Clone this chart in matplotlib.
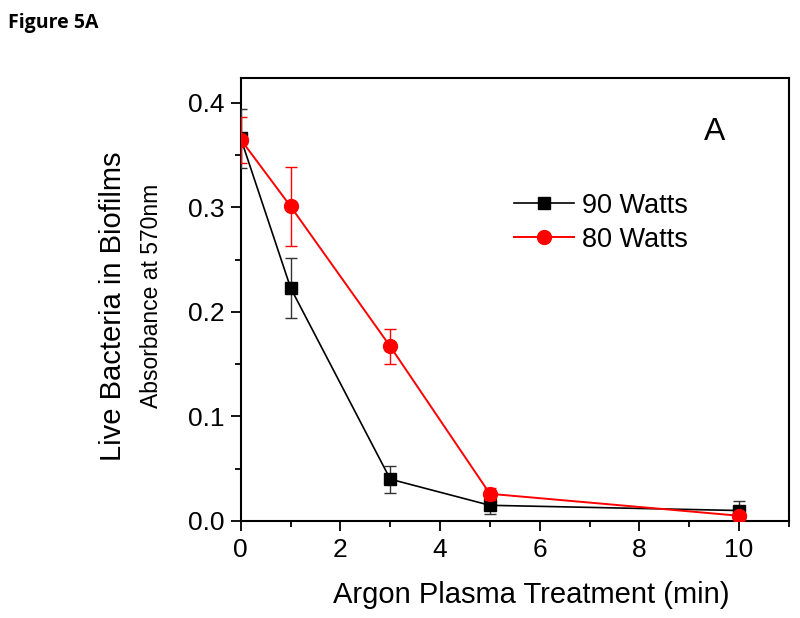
import numpy as np
import matplotlib
matplotlib.use("Agg")
import matplotlib.pyplot as plt
from matplotlib.ticker import MultipleLocator, FormatStrFormatter
from matplotlib.lines import Line2D

plt.rcParams['font.family'] = ['Liberation Sans', 'DejaVu Sans']

# treatment time (min)
time_min = [0, 1, 3, 5, 10]

# 90 Watts
w90 = [0.366, 0.223, 0.040, 0.015, 0.010]
w90_err = [0.028, 0.029, 0.013, 0.008, 0.009]

# 80 Watts
w80 = [0.365, 0.301, 0.167, 0.026, 0.005]
w80_err = [0.022, 0.038, 0.017, 0.006, 0.003]

fig = plt.figure(figsize=(8, 6.18), dpi=100)
ax = fig.add_axes([0.301, 0.157, 0.685, 0.717])

ax.errorbar(time_min, w90, yerr=w90_err, color='black', marker='s', ms=9,
            lw=1.2, ecolor='#333333', elinewidth=1, capsize=4, capthick=1,
            zorder=3)
ax.errorbar(time_min, w80, yerr=w80_err, color='red', marker='o', ms=10,
            lw=1.4, ecolor='red', elinewidth=1, capsize=4, capthick=1,
            zorder=4)

ax.set_xlim(0, 11)
ax.set_ylim(0, 0.424)
ax.xaxis.set_major_locator(MultipleLocator(2))
ax.xaxis.set_minor_locator(MultipleLocator(1))
ax.yaxis.set_major_locator(MultipleLocator(0.1))
ax.yaxis.set_minor_locator(MultipleLocator(0.05))
ax.yaxis.set_major_formatter(FormatStrFormatter('%.1f'))
ax.tick_params(which='both', direction='out', top=False, right=False, width=1.3)
ax.tick_params(which='major', length=7, labelsize=19, pad=5)
ax.tick_params(which='minor', length=4)
for s in ax.spines.values():
    s.set_linewidth(1.5)

ax.set_xlabel('Argon Plasma Treatment (min)', fontsize=21)
ax.xaxis.set_label_coords(0.53, -0.135)

fig.text(0.141, 0.504, 'Live Bacteria in Biofilms', rotation=90, fontsize=21,
         ha='center', va='center')
fig.text(0.190, 0.521, 'Absorbance at 570nm', rotation=90, fontsize=16.5,
         ha='center', va='center')

ax.text(9.52, 0.372, 'A', fontsize=23, ha='center', va='center')

handles = [Line2D([], [], color='black', marker='s', ms=8, lw=1.2),
           Line2D([], [], color='red', marker='o', ms=10, lw=1.4)]
ax.legend(handles, ['90 Watts', '80 Watts'], loc='upper left',
          bbox_to_anchor=(0.479, 0.765), frameon=False, fontsize=19.5,
          handlelength=2.2, handletextpad=0.3, labelspacing=0.3,
          borderaxespad=0)

fig.text(0.01, 0.962, 'Figure 5A', fontsize=14, fontweight='bold',
         family='Open Sans', ha='left', va='center')

fig.savefig('out.png', dpi=100)
